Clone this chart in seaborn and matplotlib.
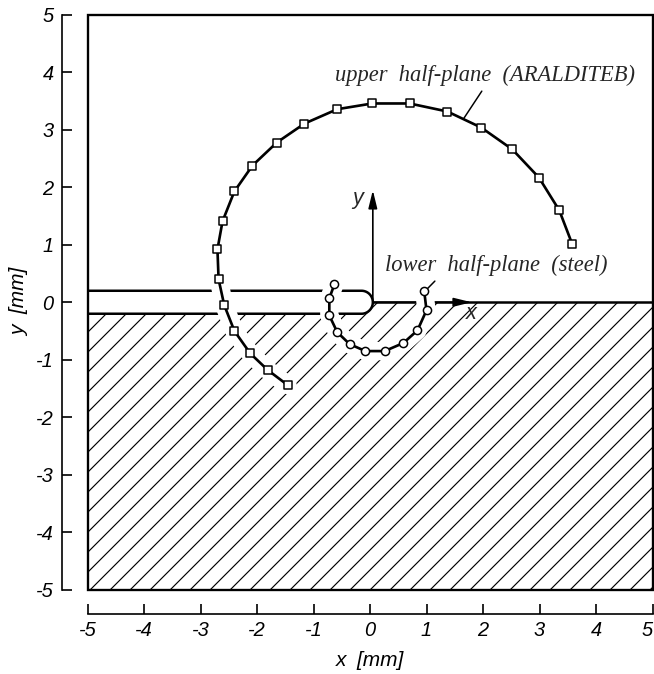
import numpy as np
import pandas as pd
import matplotlib
matplotlib.use("Agg")
import matplotlib.pyplot as plt
from matplotlib.patches import Rectangle
import seaborn as sns

# Crack path measured in the upper half-plane (ARALDITE B), mm
upper_x = [3.58, 3.35, 2.99, 2.52, 1.97, 1.37, 0.70, 0.04, -0.58, -1.16, -1.65,
           -2.08, -2.40, -2.61, -2.70, -2.68, -2.58, -2.40, -2.12, -1.81, -1.46]
upper_y = [1.01, 1.60, 2.17, 2.66, 3.04, 3.32, 3.46, 3.46, 3.36, 3.11, 2.78,
           2.38, 1.93, 1.41, 0.92, 0.40, -0.05, -0.50, -0.89, -1.18, -1.44]

# Crack path measured in the lower half-plane (steel), mm
lower_x = [-0.63, -0.72, -0.72, -0.58, -0.36, -0.08, 0.26, 0.59, 0.84, 1.00, 0.96]
lower_y = [0.31, 0.07, -0.23, -0.52, -0.73, -0.85, -0.85, -0.71, -0.49, -0.14, 0.19]

axis_ticks = [-5, -4, -3, -2, -1, 0, 1, 2, 3, 4, 5]
upper_label = "upper  half-plane  (ARALDITEB)"
lower_label = "lower  half-plane  (steel)"

# Geometry of the initial notch (slit with a rounded tip) along the interface
SLIT_HALF = 0.2
TIP_CENTER = -0.15
TIP_X = TIP_CENTER + SLIT_HALF
LIM = 5

DPI = 120
sns.set_theme(style="white")
plt.rcParams["font.family"] = ["Liberation Sans", "DejaVu Sans"]
plt.rcParams["font.style"] = "italic"
plt.rcParams["axes.unicode_minus"] = False
plt.rcParams["hatch.linewidth"] = 0.7

fig = plt.figure(figsize=(654 / DPI, 674 / DPI), dpi=DPI)
ax = fig.add_axes([87.5 / 654, 84.5 / 674, 565 / 654, 574.5 / 674])
ax.set_facecolor("white")

# Hatched steel half-plane below the interface and the notch
theta_low = np.linspace(-np.pi / 2, 0, 30)
hx = np.concatenate([[-LIM], TIP_CENTER + SLIT_HALF * np.cos(theta_low), [LIM]])
hy = np.concatenate([[-SLIT_HALF], SLIT_HALF * np.sin(theta_low), [0]])
ax.fill_between(hx, -LIM, hy, hatch="//", facecolor="none", edgecolor="black",
                linewidth=0, zorder=1)

# Notch outline and the interface line
theta = np.linspace(np.pi / 2, -np.pi / 2, 60)
slit_x = np.concatenate([[-LIM], TIP_CENTER + SLIT_HALF * np.cos(theta), [-LIM]])
slit_y = np.concatenate([[SLIT_HALF], SLIT_HALF * np.sin(theta), [-SLIT_HALF]])
ax.plot(slit_x, slit_y, color="black", lw=1.5, zorder=2, solid_capstyle="butt")
ax.plot([TIP_X, LIM], [0, 0], color="black", lw=1.5, zorder=2)

# Coordinate arrows at the notch tip
arrow_style = "-|>,head_length=0.9,head_width=0.22"
ax.annotate("", xy=(TIP_X, 1.95), xytext=(TIP_X, 0),
            arrowprops=dict(arrowstyle=arrow_style, mutation_scale=10, lw=1.0,
                            color="black", shrinkA=0, shrinkB=0), zorder=2.5)
ax.annotate("", xy=(1.8, 0), xytext=(TIP_X, 0),
            arrowprops=dict(arrowstyle=arrow_style, mutation_scale=10, lw=1.0,
                            color="black", shrinkA=0, shrinkB=0), zorder=2.5)
ax.text(-0.22, 1.8, "y", ha="center", va="center", fontsize=13, zorder=6)
ax.text(1.8, -0.2, "x", ha="center", va="center", fontsize=13, zorder=6)

upper = pd.DataFrame({"x": upper_x, "y": upper_y})
lower = pd.DataFrame({"x": lower_x, "y": lower_y})

for df, marker in [(upper, "s"), (lower, "o")]:
    # white clearance around the path, then the path and its markers
    sns.lineplot(data=df, x="x", y="y", sort=False, estimator=None, color="white",
                 linewidth=11, solid_capstyle="round", zorder=3, ax=ax)
    sns.lineplot(data=df, x="x", y="y", sort=False, estimator=None, color="black",
                 linewidth=1.6, zorder=4, ax=ax)
    sns.scatterplot(data=df, x="x", y="y", marker=marker, s=24, color="white",
                    edgecolor="black", linewidth=0.9, zorder=5, ax=ax)

serif = ["Liberation Serif", "DejaVu Serif"]
ax.annotate(upper_label, xy=(1.66, 3.20), xytext=(2.04, 3.95), ha="center",
            va="center", fontfamily=serif, fontstyle="italic", fontsize=13.5,
            arrowprops=dict(arrowstyle="-", lw=0.9, color="black",
                            relpos=(0.5, 0.0), shrinkA=1, shrinkB=0), zorder=6)
ax.annotate(lower_label, xy=(1.02, 0.24), xytext=(2.24, 0.64), ha="center",
            va="center", fontfamily=serif, fontstyle="italic", fontsize=13.5,
            arrowprops=dict(arrowstyle="-", lw=0.9, color="black",
                            relpos=(0.245, 0.0), shrinkA=1, shrinkB=0), zorder=6)

ax.set_xlim(-LIM, LIM)
ax.set_ylim(-LIM, LIM)
ax.set_xticks(axis_ticks)
ax.set_yticks(axis_ticks)

# Detached scales on the left and bottom, closed frame around the field
sns.despine(ax=ax, offset={"left": 15.3, "bottom": 14.7})
for side in ("left", "bottom"):
    ax.spines[side].set_color("black")
    ax.spines[side].set_linewidth(1.0)
ax.add_patch(Rectangle((0, 0), 1, 1, transform=ax.transAxes, fill=False,
                       lw=1.4, edgecolor="black", zorder=10, clip_on=False))

ax.tick_params(axis="both", which="major", direction="in", length=6, width=1.0,
               color="black", labelsize=12, labelcolor="black",
               bottom=True, left=True)
ax.tick_params(axis="x", pad=4.5)
ax.tick_params(axis="y", pad=5)

# keep the last x tick label inside the figure edge
fig.canvas.draw()
ax.get_xticklabels()[-1].set_horizontalalignment("right")

ax.set_xlabel("x  [mm]", fontsize=12.5, labelpad=6, color="black")
ax.set_ylabel("y  [mm]", fontsize=12.5, labelpad=4, color="black")

fig.savefig("out.png", dpi=DPI)
